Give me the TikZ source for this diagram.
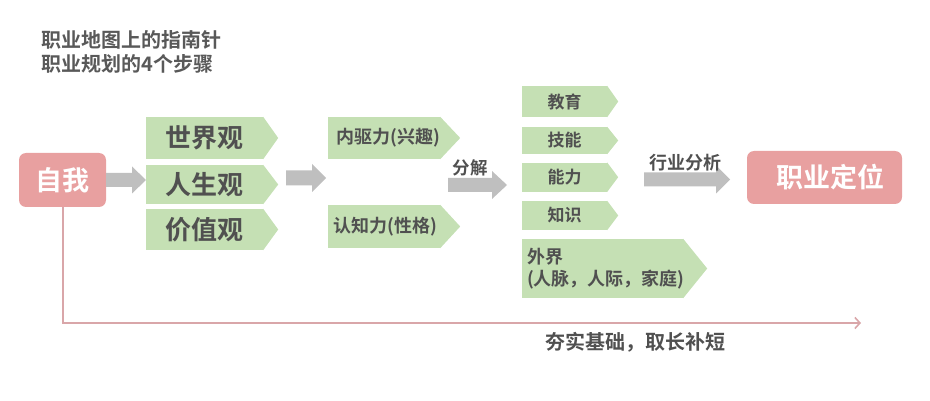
\documentclass[tikz,border=0pt]{standalone}
\usepackage{fontspec}
\setmainfont{Noto Sans CJK SC}[BoldFont={Noto Sans CJK SC Bold}]
\usetikzlibrary{arrows.meta,calc}
\definecolor{pinkbox}{RGB}{232,160,160}
\definecolor{greenbox}{RGB}{197,224,180}
\definecolor{arrowgray}{RGB}{191,191,191}
\definecolor{linepink}{RGB}{217,166,169}
\definecolor{textgray}{RGB}{80,80,80}
\definecolor{titlegray}{RGB}{89,89,89}
\tikzset{
  pinknode/.style={fill=pinkbox, rounded corners=7pt, text=white, font=\bfseries\fontsize{27}{30}\selectfont, inner sep=0pt},
  greennode/.style={fill=greenbox, text=textgray, inner sep=0pt, font=\bfseries\fontsize{#1}{#1}\selectfont},
  lbl/.style={text=textgray, inner sep=0pt, font=\bfseries\fontsize{#1}{#1}\selectfont},
  grayarrow/.style={fill=arrowgray},
  baseline/.style={draw=linepink, line width=2pt, -{Straight Barb[length=5pt,width=11pt,line width=1.6pt]}}
}
% chevron tip added to the east side of a named rectangle node
\newcommand{\chevtip}[2]{\fill[greenbox] (#1.north east) -- ($(#1.east)+(#2,0)$) -- (#1.south east) -- cycle;}
% block arrow
\newcommand{\blockarr}[6]{\fill[grayarrow] (#1,#4-#5) -- (#2,#4-#5) -- (#2,#4-#6) -- (#3,#4) -- (#2,#4+#6) -- (#2,#4+#5) -- (#1,#4+#5) -- cycle;}
\begin{document}
\begin{tikzpicture}[x=1pt,y=-1pt]
\useasboundingbox (0,0) rectangle (930,401);

% title
\node[anchor=west, text=titlegray, inner sep=0pt, font=\bfseries\fontsize{20}{20}\selectfont] (t1) at (41,40) {职业地图上的指南针};
\node[anchor=west, text=titlegray, inner sep=0pt, font=\bfseries\fontsize{20}{20}\selectfont] (t2) at (41,64) {职业规划的4个步骤};

% self
\node[pinknode, minimum width=87pt, minimum height=54pt] (self) at (62.5,180) {自我};

% three views
\node[greennode=26, minimum width=117pt, minimum height=42pt] (sjg) at (204.5,138) {世界观};
\chevtip{sjg}{15}
\node[greennode=26, minimum width=117pt, minimum height=39pt] (rsg) at (204.5,184.5) {人生观};
\chevtip{rsg}{15}
\node[greennode=26, minimum width=117pt, minimum height=41pt] (jzg) at (204.5,229.5) {价值观};
\chevtip{jzg}{15}

% arrows 1 and 2
\blockarr{106}{132}{146}{180}{7}{13.5}
\blockarr{286}{312}{326}{178}{7.5}{14}

% drives
\node[greennode=18, minimum width=112pt, minimum height=42pt] (nql) at (384,138) {\makebox[96pt]{\hspace*{9pt}内驱力(兴趣)}};
\chevtip{nql}{20}
\node[greennode=18, minimum width=112pt, minimum height=43pt] (rzl) at (384,226.5) {\makebox[96pt]{\hspace*{3pt}认知力(性格)}};
\chevtip{rzl}{20}

% arrow 3
\blockarr{448}{492}{507}{185}{7}{14}
\node[lbl=17.5] (fj) at (470,168) {分解};

% right column
\node[greennode=17, minimum width=85pt, minimum height=31pt] (jy) at (564.5,101.5) {教育};
\chevtip{jy}{11}
\node[greennode=17, minimum width=85pt, minimum height=27pt] (jn) at (564.5,140.5) {技能};
\chevtip{jn}{11}
\node[greennode=17, minimum width=85pt, minimum height=29pt] (nl) at (564.5,177.2) {能力};
\chevtip{nl}{11}
\node[greennode=17, minimum width=85pt, minimum height=29pt] (zs) at (564.5,215.5) {知识};
\chevtip{zs}{11}
\node[greennode=17, minimum width=161pt, minimum height=59pt, align=left, text width=151pt, inner xsep=5pt, font=\bfseries\fontsize{18}{22}\selectfont] (wj) at (602.5,268.5) {外界\\(人脉，人际，家庭)};
\chevtip{wj}{24}

% arrow 4
\blockarr{644}{716}{730}{179.5}{7}{14}
\node[lbl=18] (hyfx) at (685,163) {行业分析};

% career positioning
\node[pinknode, minimum width=155pt, minimum height=53pt] (zydw) at (824.5,177.5) {\hspace*{12pt}职业定位};

% base line
\coordinate (corner) at (self.south |- 0,323);
\coordinate (lineend) at (861,323);
\draw[baseline] (self.south) -- (corner) -- (lineend);
\node[lbl=20] (hs) at (635.5,342) {夯实基础，取长补短};
\end{tikzpicture}
\end{document}
